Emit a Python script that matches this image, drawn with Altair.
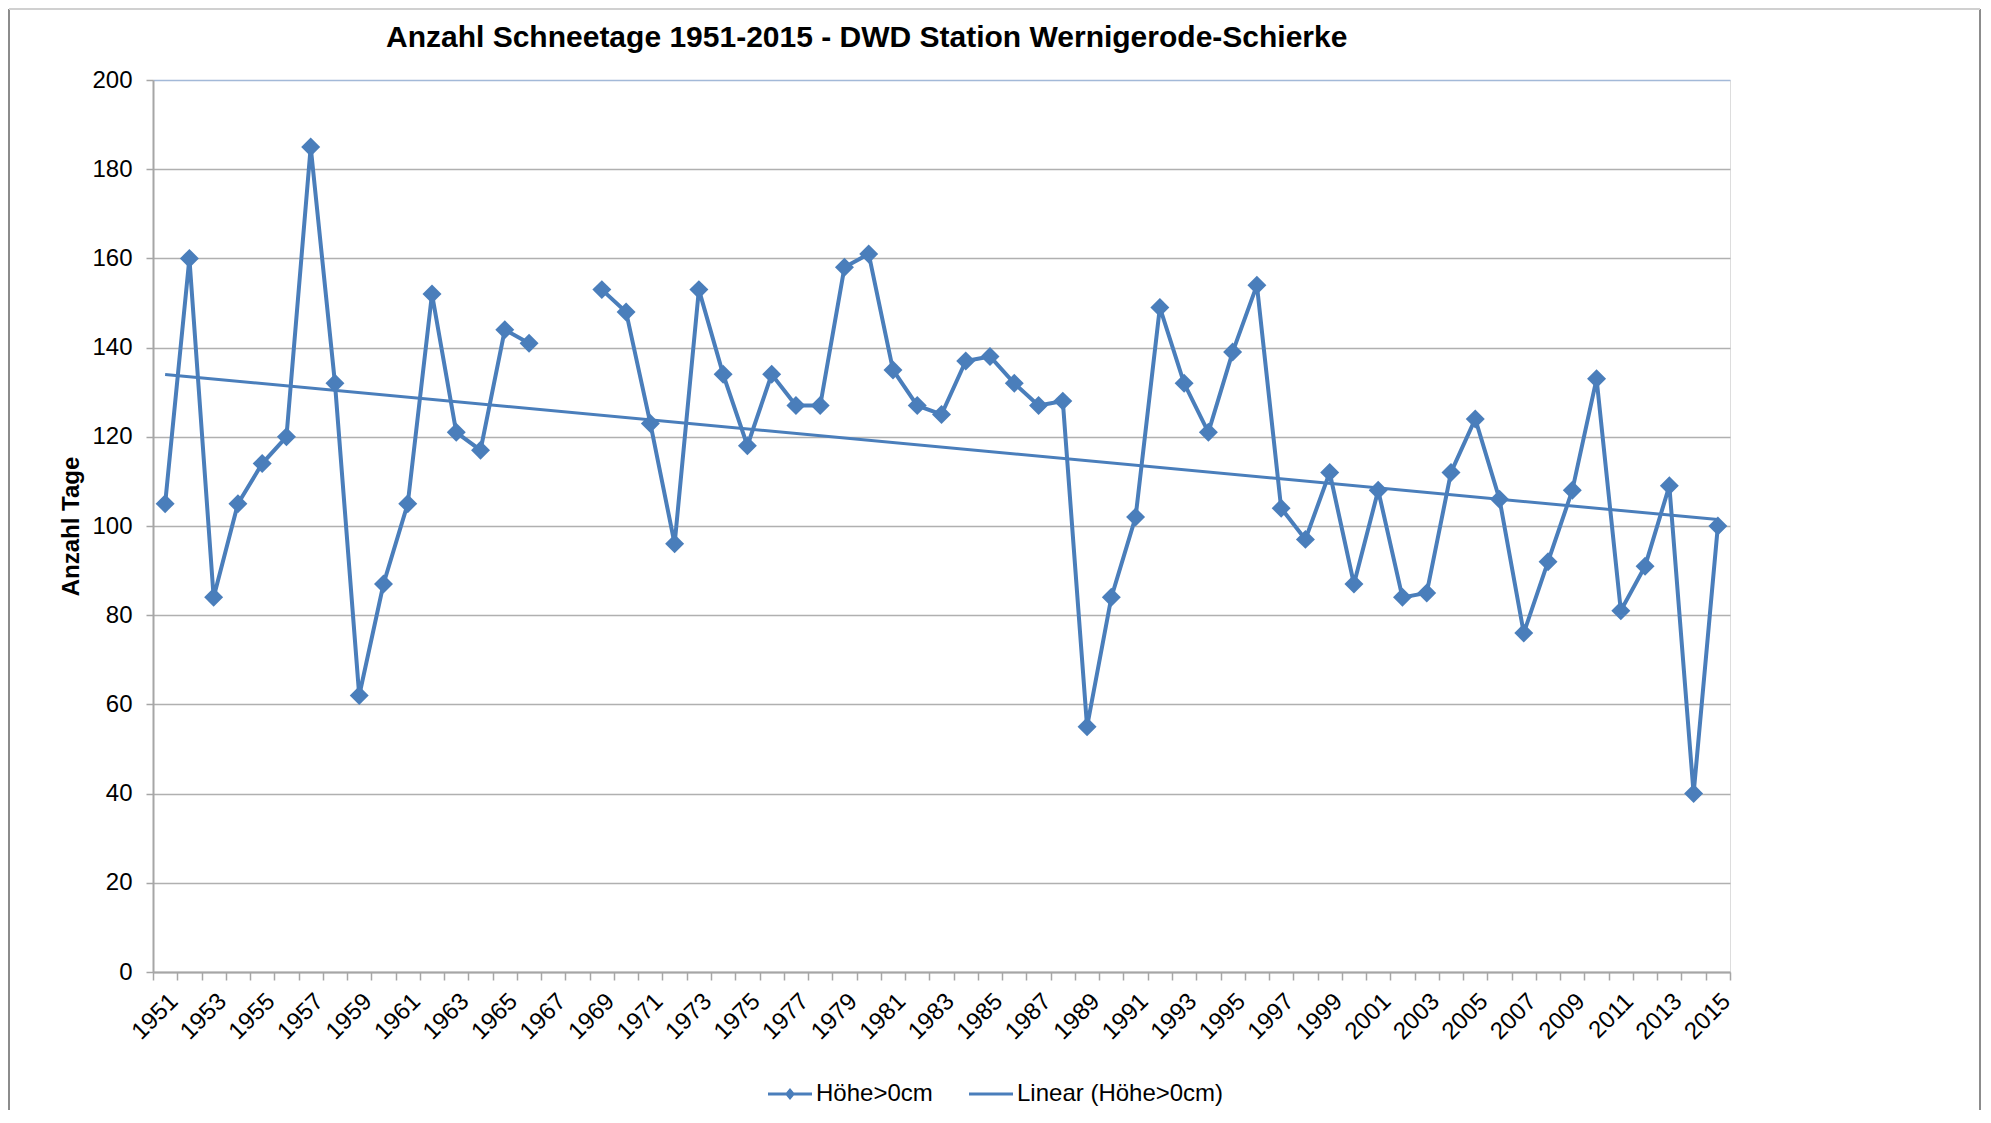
import altair as alt
import pandas as pd

# ---------------- data ----------------
years = list(range(1951, 2016))
tage = [
    105, 160, 84, 105, 114, 120, 185, 132, 62, 87,      # 1951-1960
    105, 152, 121, 117, 144, 141, None, None, 153, 148,  # 1961-1970
    123, 96, 153, 134, 118, 134, 127, 127, 158, 161,     # 1971-1980
    135, 127, 125, 137, 138, 132, 127, 128, 55, 84,      # 1981-1990
    102, 149, 132, 121, 139, 154, 104, 97, 112, 87,      # 1991-2000
    108, 84, 85, 112, 124, 106, 76, 92, 108, 133,        # 2001-2010
    81, 91, 109, 40, 100,                                # 2011-2015
]
series_names = ["Höhe>0cm", "Linear (Höhe>0cm)"]
y_ticks = list(range(0, 201, 20))

TITLE = "Anzahl Schneetage 1951-2015 - DWD Station Wernigerode-Schierke"
Y_TITLE = "Anzahl Tage"

BLUE = "#4a7ebb"
GRID = "#b0b0b0"
AXIS = "#a6a6a6"
FONT = "Liberation Sans"

W, H = 1577, 892

df = pd.DataFrame({"year": years, "tage": tage})
leg_df = pd.DataFrame({"series": series_names})
one = pd.DataFrame({"a": [0]})

x_scale = alt.Scale(type="band", domain=years, paddingInner=0, paddingOuter=0)
y_scale = alt.Scale(domain=[0, 200], nice=False)

x_axis = alt.Axis(
    title=None,
    labelAngle=-45,
    labelFontSize=24,
    labelFont=FONT,
    labelColor="#000000",
    labelPadding=9,
    labelExpr="datum.value % 2 == 1 ? datum.label : ''",
    labelOverlap=False,
    tickBand="extent",
    tickSize=8,
    tickColor=AXIS,
    tickWidth=1.5,
    domainColor=AXIS,
    domainWidth=2,
    grid=False,
)
y_axis = alt.Axis(
    values=y_ticks,
    labelFontSize=24,
    labelFont=FONT,
    labelColor="#000000",
    labelPadding=14,
    tickSize=7,
    tickColor=AXIS,
    tickWidth=1.5,
    domainColor=AXIS,
    domainWidth=2,
    grid=True,
    gridColor={"condition": {"test": "datum.value === 200", "value": "#a3b9d8"}, "value": GRID},
    gridWidth=1.5,
    titleFont=FONT,
    titleFontSize=24,
    titleFontWeight="bold",
    titleColor="#000000",
    titlePadding=8,
)

X = alt.X("year:O", scale=x_scale, axis=x_axis)
Y = alt.Y("tage:Q", scale=y_scale, axis=y_axis, title=Y_TITLE)

base = alt.Chart(df)

line = base.mark_line(color=BLUE, strokeWidth=4).encode(x=X, y=Y)
pts = base.mark_point(shape="diamond", filled=True, size=360, color=BLUE, opacity=1).encode(x=X, y=Y)
trend = (
    base.transform_regression("year", "tage", extent=[1951, 2015])
    .mark_line(color=BLUE, strokeWidth=3)
    .encode(x=X, y=alt.Y("tage:Q", scale=y_scale))
)

# legend symbols drawn as filled shapes: line segment (thin bar) with / without a diamond
P_DIAMOND_LINE = "M-1.1,-0.08H1.1V0.08H-1.1ZM0,-0.3L0.25,0L0,0.3L-0.25,0Z"
P_LINE = "M-1.1,-0.07H1.1V0.07H-1.1Z"

legend_layer = (
    alt.Chart(leg_df)
    .mark_point(filled=True, color=BLUE, opacity=0)
    .encode(
        shape=alt.Shape(
            "series:N",
            scale=alt.Scale(domain=series_names, range=[P_DIAMOND_LINE, P_LINE]),
            legend=alt.Legend(
                title=None,
                orient="none",
                legendX=617,
                legendY=994,
                direction="horizontal",
                symbolSize=1600,
                symbolFillColor=BLUE,
                symbolStrokeColor=BLUE,
                symbolStrokeWidth=0,
                symbolOpacity=1,
                labelFont=FONT,
                labelFontSize=24,
                labelColor="#000000",
                labelOffset=6,
                labelLimit=600,
                columnPadding=36,
            ),
        )
    )
)

# outer chart frame (decoration)
FR = "#8c8c8c"
frame_left = alt.Chart(one).mark_rule(color=FR, strokeWidth=2).encode(
    x=alt.value(-144), y=alt.value(-71), y2=alt.value(1030))
frame_right = alt.Chart(one).mark_rule(color=FR, strokeWidth=2).encode(
    x=alt.value(1827), y=alt.value(-71), y2=alt.value(1030))
frame_top = alt.Chart(one).mark_rule(color="#d0d0d0", strokeWidth=2).encode(
    x=alt.value(-144), x2=alt.value(1827), y=alt.value(-71))

chart = (
    alt.layer(line, trend, pts, legend_layer, frame_left, frame_right, frame_top)
    .properties(
        width=W,
        height=H,
        padding={"left": 0, "top": 0, "right": 0, "bottom": 0},
        title=alt.TitleParams(
            TITLE,
            font=FONT,
            fontSize=30,
            fontWeight="bold",
            color="#000000",
            anchor="start",
            frame="group",
            dx=233,
            offset=-45,
        ),
    )
    .configure_view(stroke="#a3b9d8", strokeWidth=1.5)
    .configure(background="white")
)

chart.save("out.html", embed_options={"renderer": "svg", "actions": False})
